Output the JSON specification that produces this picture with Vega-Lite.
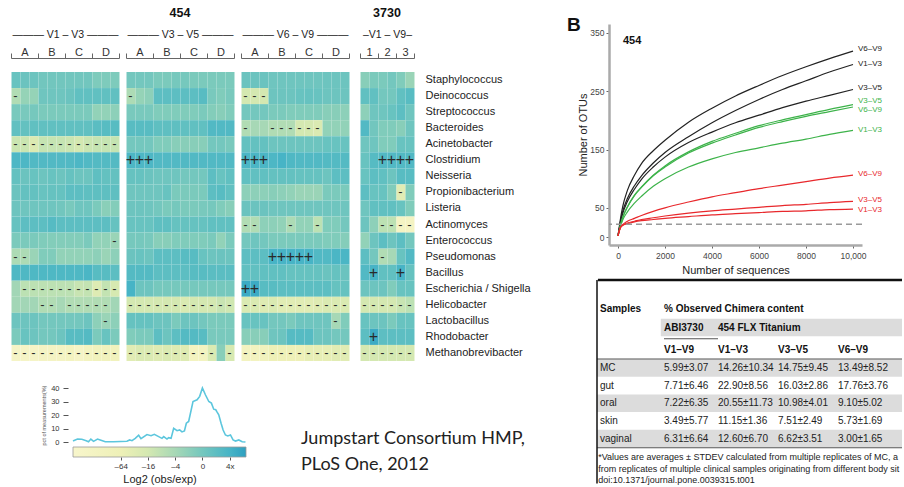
{
  "$schema": "https://vega.github.io/schema/vega-lite/v6.json",
  "padding": {"left": 10, "top": 6, "right": 0, "bottom": 0},
  "background": "white",
  "config": {
    "font": "Liberation Sans",
    "view": {"stroke": null},
    "axis": {"grid": false, "labelColor": "#333", "titleColor": "#222", "tickColor": "#555", "domainColor": "#555", "titleFontWeight": "normal"},
    "title": {"color": "#111"}
  },
  "datasets": {
    "heat": [
      {"p":"V1–V3","g":"Staphylococcus","c":[1,2,3,4,5,6,7,8,9,10,11,12],"v":[0.5,0.4,0.3,0.1,0.1,0.1,0.1,0.1,0.1,-0.4,-0.4,-0.4],"m":["","","","","","","","","","","",""]},
      {"p":"V1–V3","g":"Deinococcus","c":[1,2,3,4,5,6,7,8,9,10,11,12],"v":[-2.5,-1.3,-1.3,0.2,0.2,0.2,0.4,0.8,0.8,0.8,0.8,0.8],"m":["-","","","","","","","","","","",""]},
      {"p":"V1–V3","g":"Streptococcus","c":[1,2,3,4,5,6,7,8,9,10,11,12],"v":[-0.2,-0.2,-0.1,-0.3,-0.3,-0.3,-0.3,-0.3,-0.3,-1.2,-1.2,-1],"m":["","","","","","","","","","","",""]},
      {"p":"V1–V3","g":"Bacteroides","c":[1,2,3,4,5,6,7,8,9,10,11,12],"v":[0.8,0.7,0.8,0.8,0.8,0.8,0.8,0.8,0.8,1.1,1.2,1.2],"m":["","","","","","","","","","","",""]},
      {"p":"V1–V3","g":"Acinetobacter","c":[1,2,3,4,5,6,7,8,9,10,11,12],"v":[-3.6,-3.6,-4.6,-3.4,-3.4,-3.4,-3.6,-4,-3.6,-3.4,-3.4,-3.4],"m":["-","-","-","-","-","-","-","-","-","-","-","-"]},
      {"p":"V1–V3","g":"Clostridium","c":[1,2,3,4,5,6,7,8,9,10,11,12],"v":[1.7,1.7,1.5,1.5,1.5,1.5,1.5,1.7,1.5,1.4,1.4,1.4],"m":["","","","","","","","","","","",""]},
      {"p":"V1–V3","g":"Neisseria","c":[1,2,3,4,5,6,7,8,9,10,11,12],"v":[0.7,0.4,0.5,0.3,0.5,0.3,0.6,0.3,0.3,0.9,0.7,0.7],"m":["","","","","","","","","","","",""]},
      {"p":"V1–V3","g":"Propionibacterium","c":[1,2,3,4,5,6,7,8,9,10,11,12],"v":[0.4,0.7,0.7,0.5,0.6,0.6,1,1,0.9,0.9,0.9,0.9],"m":["","","","","","","","","","","",""]},
      {"p":"V1–V3","g":"Listeria","c":[1,2,3,4,5,6,7,8,9,10,11,12],"v":[0.3,0.2,0.2,0.2,0.2,0.1,-0.2,0.2,0.2,-0.3,-0.9,-0.6],"m":["","","","","","","","","","","",""]},
      {"p":"V1–V3","g":"Actinomyces","c":[1,2,3,4,5,6,7,8,9,10,11,12],"v":[0.6,1,1,1,1.3,1,1,1,1,1,1,0.6],"m":["","","","","","","","","","","",""]},
      {"p":"V1–V3","g":"Enterococcus","c":[1,2,3,4,5,6,7,8,9,10,11,12],"v":[-0.3,-0.3,-0.3,-0.5,-0.6,-0.6,-0.6,-0.6,-0.3,-1.2,-1.2,-1.5],"m":["","","","","","","","","","","","-"]},
      {"p":"V1–V3","g":"Pseudomonas","c":[1,2,3,4,5,6,7,8,9,10,11,12],"v":[-2.3,-2.3,-1.5,-0.5,-0.5,-1.2,-1.2,-1.2,-1.2,-1,-1.5,-1],"m":["-","-","","","","","","","","","",""]},
      {"p":"V1–V3","g":"Bacillus","c":[1,2,3,4,5,6,7,8,9,10,11,12],"v":[1.6,1.6,1.6,1.6,1.6,1.6,1.6,1.6,1.8,1.2,1.2,1],"m":["","","","","","","","","","","",""]},
      {"p":"V1–V3","g":"Escherichia / Shigella","c":[1,2,3,4,5,6,7,8,9,10,11,12],"v":[-1.8,-3,-3,-3,-3,-3,-3,-3.5,-3.3,-4.8,-3.3,-4.2],"m":["","-","-","-","-","-","-","-","-","-","-","-"]},
      {"p":"V1–V3","g":"Helicobacter","c":[1,2,3,4,5,6,7,8,9,10,11,12],"v":[-1.8,-1.8,-1.8,-2.5,-2.5,-2,-2.5,-2.5,-2.5,-2.5,-2.5,-1.8],"m":["","","","-","-","","-","-","-","-","-",""]},
      {"p":"V1–V3","g":"Lactobacillus","c":[1,2,3,4,5,6,7,8,9,10,11,12],"v":[0.3,0.3,0.3,0,0,0,0,0,0.3,-1,-1.5,-1],"m":["","","","","","","","","","","-",""]},
      {"p":"V1–V3","g":"Rhodobacter","c":[1,2,3,4,5,6,7,8,9,10,11,12],"v":[-0.3,0.5,0.3,0,0,0.3,1.2,1.2,1.4,-0.3,0.5,-0.3],"m":["","","","","","","","","","","",""]},
      {"p":"V1–V3","g":"Methanobrevibacter","c":[1,2,3,4,5,6,7,8,9,10,11,12],"v":[-8.5,-8.5,-8.5,-8,-8,-8,-7.5,-8.5,-7.5,-7,-7,-7],"m":["-","-","-","-","-","-","-","-","-","-","-","-"]},

      {"p":"V3–V5","g":"Staphylococcus","c":[1,2,3,4,5,6,7,8,9,10,11,12],"v":[0,0,0,-0.3,-0.3,-0.1,-0.1,-0.3,-0.3,-0.3,-0.3,-0.3],"m":["","","","","","","","","","","",""]},
      {"p":"V3–V5","g":"Deinococcus","c":[1,2,3,4,5,6,7,8,9,10,11,12],"v":[-2.3,-1.3,-1,1,1,1,1,1,1.2,-0.2,-0.5,-0.2],"m":["-","","","","","","","","","","",""]},
      {"p":"V3–V5","g":"Streptococcus","c":[1,2,3,4,5,6,7,8,9,10,11,12],"v":[-0.2,-0.2,-0.2,-0.5,-0.5,-0.5,-0.5,-0.5,-0.3,-0.6,-0.8,-0.5],"m":["","","","","","","","","","","",""]},
      {"p":"V3–V5","g":"Bacteroides","c":[1,2,3,4,5,6,7,8,9,10,11,12],"v":[1.2,1.2,1.2,0.9,0.9,0.9,0.8,0.8,0.8,1.5,1.5,1.5],"m":["","","","","","","","","","","",""]},
      {"p":"V3–V5","g":"Acinetobacter","c":[1,2,3,4,5,6,7,8,9,10,11,12],"v":[0,0,0,-0.5,-0.5,-0.8,-0.8,-0.8,-0.8,0,0,-0.2],"m":["","","","","","","","","","","",""]},
      {"p":"V3–V5","g":"Clostridium","c":[1,2,3,4,5,6,7,8,9,10,11,12],"v":[1.7,1.7,1.7,1.5,1.5,1.5,1.5,1.5,1.5,1.5,1.5,1.5],"m":["+","+","+","","","","","","","","",""]},
      {"p":"V3–V5","g":"Neisseria","c":[1,2,3,4,5,6,7,8,9,10,11,12],"v":[0.6,0.6,0.4,0.2,0.2,0.2,0,0,0,1,0.5,0.8],"m":["","","","","","","","","","","",""]},
      {"p":"V3–V5","g":"Propionibacterium","c":[1,2,3,4,5,6,7,8,9,10,11,12],"v":[0.2,0.2,0.2,0.2,0.5,-0.3,-0.3,-0.3,-0.3,1,1.2,0.8],"m":["","","","","","","","","","","",""]},
      {"p":"V3–V5","g":"Listeria","c":[1,2,3,4,5,6,7,8,9,10,11,12],"v":[0.3,0.3,0.2,0,-0.3,-0.1,-0.3,-0.3,-0.2,-0.1,-0.5,-0.8],"m":["","","","","","","","","","","",""]},
      {"p":"V3–V5","g":"Actinomyces","c":[1,2,3,4,5,6,7,8,9,10,11,12],"v":[0.5,0.5,0.5,0.9,0.9,0.6,0.6,0.6,0.6,0.8,0.8,0.8],"m":["","","","","","","","","","","",""]},
      {"p":"V3–V5","g":"Enterococcus","c":[1,2,3,4,5,6,7,8,9,10,11,12],"v":[-0.1,-0.1,-0.2,-0.8,-0.8,-0.5,-0.5,-0.5,-0.5,-0.3,-1.2,-0.3],"m":["","","","","","","","","","","",""]},
      {"p":"V3–V5","g":"Pseudomonas","c":[1,2,3,4,5,6,7,8,9,10,11,12],"v":[0.4,0.5,0.3,1,1,1,1.2,1.2,0.5,0.3,0.4,0.3],"m":["","","","","","","","","","","",""]},
      {"p":"V3–V5","g":"Bacillus","c":[1,2,3,4,5,6,7,8,9,10,11,12],"v":[1.4,1.4,1.4,1,1,1,1,1.2,1.2,1.1,1.1,1.1],"m":["","","","","","","","","","","",""]},
      {"p":"V3–V5","g":"Escherichia / Shigella","c":[1,2,3,4,5,6,7,8,9,10,11,12],"v":[2,0.3,0.3,-0.1,-0.1,-0.1,-0.1,-0.1,-0.1,-0.1,-0.1,-0.1],"m":["","","","","","","","","","","",""]},
      {"p":"V3–V5","g":"Helicobacter","c":[1,2,3,4,5,6,7,8,9,10,11,12],"v":[-4,-4,-4,-4,-4,-4,-4.5,-4,-4,-4,-3.5,-3.8],"m":["-","-","-","-","-","-","-","-","-","-","-","-"]},
      {"p":"V3–V5","g":"Lactobacillus","c":[1,2,3,4,5,6,7,8,9,10,11,12],"v":[0.6,0.6,0.6,0.3,0.3,-0.3,0.3,0.3,0,-0.3,-0.3,-0.3],"m":["","","","","","","","","","","",""]},
      {"p":"V3–V5","g":"Rhodobacter","c":[1,2,3,4,5,6,7,8,9,10,11,12],"v":[-0.5,-0.3,-0.3,1,0.3,1,1.4,1.4,1.2,-0.2,-0.2,-0.2],"m":["","","","","","","","","","","",""]},
      {"p":"V3–V5","g":"Methanobrevibacter","c":[1,2,3,4,5,6,7,8,9,10,11,12],"v":[-5,-4.5,-4.5,-4.8,-4.5,-4.8,-4.8,-7.5,-7.5,-4.5,-0.8,-4.2],"m":["-","-","-","-","-","-","-","-","-","-","","-"]},

      {"p":"V6–V9","g":"Staphylococcus","c":[1,2,3,4,5,6,7,8,9,10,11,12],"v":[0.4,0.4,0.4,0.2,0.2,0.2,0.2,0.2,0.2,0.3,0.3,0.3],"m":["","","","","","","","","","","",""]},
      {"p":"V6–V9","g":"Deinococcus","c":[1,2,3,4,5,6,7,8,9,10,11,12],"v":[-4,-4,-4,0.3,0.3,0.3,0.5,0.6,0.5,0.3,0.3,0.3],"m":["-","-","-","","","","","","","","",""]},
      {"p":"V6–V9","g":"Streptococcus","c":[1,2,3,4,5,6,7,8,9,10,11,12],"v":[0,0,0,-0.3,-0.3,-0.5,-0.5,-0.5,-0.5,-0.8,-0.8,-1],"m":["","","","","","","","","","","",""]},
      {"p":"V6–V9","g":"Bacteroides","c":[1,2,3,4,5,6,7,8,9,10,11,12],"v":[-2.5,-2,-2,-2.5,-2.5,-2.5,-4,-4,-4.5,-1.2,-1.2,-1.2],"m":["-","","","-","-","-","-","-","-","","",""]},
      {"p":"V6–V9","g":"Acinetobacter","c":[1,2,3,4,5,6,7,8,9,10,11,12],"v":[0.7,0.7,0.7,0.3,0.3,0.3,0.3,0.3,0.3,0.5,0.5,0.5],"m":["","","","","","","","","","","",""]},
      {"p":"V6–V9","g":"Clostridium","c":[1,2,3,4,5,6,7,8,9,10,11,12],"v":[1.8,1.8,1.8,1.7,2,1.6,1.5,1.5,1.5,1.4,1.4,1.4],"m":["+","+","+","","","","","","","","",""]},
      {"p":"V6–V9","g":"Neisseria","c":[1,2,3,4,5,6,7,8,9,10,11,12],"v":[0.8,0.8,0.8,0.7,0.7,0.7,0.6,0.6,0.6,0.3,1,1],"m":["","","","","","","","","","","",""]},
      {"p":"V6–V9","g":"Propionibacterium","c":[1,2,3,4,5,6,7,8,9,10,11,12],"v":[-1,-1,-1,-0.8,-1,-1.2,-1.5,-1.5,-1.5,-0.3,-0.3,-0.3],"m":["","","","","","","","","","","",""]},
      {"p":"V6–V9","g":"Listeria","c":[1,2,3,4,5,6,7,8,9,10,11,12],"v":[0.4,0.4,0.4,0.2,0.2,0.2,0.2,0.2,0.2,0.2,0.2,0.2],"m":["","","","","","","","","","","",""]},
      {"p":"V6–V9","g":"Actinomyces","c":[1,2,3,4,5,6,7,8,9,10,11,12],"v":[-2.5,-2.5,-1,-1,-1.2,-2.3,-1.2,-1.2,-3,-0.5,-0.5,0],"m":["-","-","","","","-","","","-","","",""]},
      {"p":"V6–V9","g":"Enterococcus","c":[1,2,3,4,5,6,7,8,9,10,11,12],"v":[0,0.2,0,-0.3,-0.3,-0.3,-0.3,-0.3,-0.3,-0.5,-0.5,-0.7],"m":["","","","","","","","","","","",""]},
      {"p":"V6–V9","g":"Pseudomonas","c":[1,2,3,4,5,6,7,8,9,10,11,12],"v":[1,1,1,2,2,2,2,2,1.5,1.5,1.8,1.8],"m":["","","","+","+","+","+","+","","","",""]},
      {"p":"V6–V9","g":"Bacillus","c":[1,2,3,4,5,6,7,8,9,10,11,12],"v":[0.8,0.8,0.8,0.8,0.8,0.6,0.6,0.6,0.6,0.4,0.6,0.4],"m":["","","","","","","","","","","",""]},
      {"p":"V6–V9","g":"Escherichia / Shigella","c":[1,2,3,4,5,6,7,8,9,10,11,12],"v":[2.5,2.5,1.2,1.2,1,1,1,1,1,1,0.6,0.6],"m":["+","+","","","","","","","","","",""]},
      {"p":"V6–V9","g":"Helicobacter","c":[1,2,3,4,5,6,7,8,9,10,11,12],"v":[-4.5,-4.5,-4.8,-4.5,-5,-5,-5,-5,-4.8,-4.5,-4.5,-4.5],"m":["-","-","-","-","-","-","-","-","-","-","-","-"]},
      {"p":"V6–V9","g":"Lactobacillus","c":[1,2,3,4,5,6,7,8,9,10,11,12],"v":[0.5,0.5,0.5,0,0,-0.3,0.2,0.2,0.2,0.2,-2,-0.5],"m":["","","","","","","","","","","-",""]},
      {"p":"V6–V9","g":"Rhodobacter","c":[1,2,3,4,5,6,7,8,9,10,11,12],"v":[-0.8,-0.8,-0.8,0.2,0.3,1.3,1.3,1.3,0.3,0.3,0,0],"m":["","","","","","","","","","","",""]},
      {"p":"V6–V9","g":"Methanobrevibacter","c":[1,2,3,4,5,6,7,8,9,10,11,12],"v":[-7.5,-7.5,-7,-6,-6,-6,-6,-5.5,-5.5,-5.5,-5,-5],"m":["-","-","-","-","-","-","-","-","-","-","-","-"]},

      {"p":"3730","g":"Staphylococcus","c":[1,2,3,4,5,6],"v":[-0.8,-0.3,-0.3,0,-0.5,-1.5],"m":["","","","","",""]},
      {"p":"3730","g":"Deinococcus","c":[1,2,3,4,5,6],"v":[0.8,0.8,0,0,0.8,1.2],"m":["","","","","",""]},
      {"p":"3730","g":"Streptococcus","c":[1,2,3,4,5,6],"v":[-1,0.2,0.2,0.5,1,0.2],"m":["","","","","",""]},
      {"p":"3730","g":"Bacteroides","c":[1,2,3,4,5,6],"v":[1.5,0.1,-0.5,-0.5,-0.8,0.2],"m":["","","","","",""]},
      {"p":"3730","g":"Acinetobacter","c":[1,2,3,4,5,6],"v":[0.2,0.2,-0.5,-0.5,0.5,0.5],"m":["","","","","",""]},
      {"p":"3730","g":"Clostridium","c":[1,2,3,4,5,6],"v":[0.5,1.3,1.5,1.5,1.5,1.5],"m":["","","+","+","+","+"]},
      {"p":"3730","g":"Neisseria","c":[1,2,3,4,5,6],"v":[0.5,1,0.8,0.3,1.2,1.2],"m":["","","","","",""]},
      {"p":"3730","g":"Propionibacterium","c":[1,2,3,4,5,6],"v":[1,0.5,0.5,-0.5,-5,-0.5],"m":["","","","","-",""]},
      {"p":"3730","g":"Listeria","c":[1,2,3,4,5,6],"v":[0.2,0.8,0.8,0.8,0.5,-0.5],"m":["","","","","",""]},
      {"p":"3730","g":"Actinomyces","c":[1,2,3,4,5,6],"v":[0.3,-1,-3,-3,-8,-8],"m":["","","-","-","-","-"]},
      {"p":"3730","g":"Enterococcus","c":[1,2,3,4,5,6],"v":[-1.2,0.3,1,0.3,1,0],"m":["","","","","",""]},
      {"p":"3730","g":"Pseudomonas","c":[1,2,3,4,5,6],"v":[1,0,-2.5,-2,0.5,1.5],"m":["","","-","","",""]},
      {"p":"3730","g":"Bacillus","c":[1,2,3,4,5,6],"v":[1.5,2,0.8,0.8,2,0.6],"m":["","+","","","+",""]},
      {"p":"3730","g":"Escherichia / Shigella","c":[1,2,3,4,5,6],"v":[0.3,0.3,0.3,-0.5,0.5,0.5],"m":["","","","","",""]},
      {"p":"3730","g":"Helicobacter","c":[1,2,3,4,5,6],"v":[-4,-4,-4,-4,-3.5,-3],"m":["-","-","-","-","-","-"]},
      {"p":"3730","g":"Lactobacillus","c":[1,2,3,4,5,6],"v":[0.5,0.3,0.3,-0.3,0.5,0.5],"m":["","","","","",""]},
      {"p":"3730","g":"Rhodobacter","c":[1,2,3,4,5,6],"v":[1,2.5,1,1,1,1],"m":["","+","","","",""]},
      {"p":"3730","g":"Methanobrevibacter","c":[1,2,3,4,5,6],"v":[-4,-4,-4,-4,-4,-4],"m":["-","-","-","-","-","-"]}
    ],
    "hist": [
      {"l":-9.5,"p":0.8},{"l":-9.46,"p":1.0},{"l":-9.17,"p":2.2},{"l":-8.85,"p":2.0},{"l":-8.53,"p":1.0},{"l":-8.36,"p":0.2},{"l":-8.19,"p":2.2},{"l":-7.99,"p":0.5},{"l":-7.7,"p":2.2},{"l":-7.5,"p":1.5},{"l":-7.13,"p":0.2},{"l":-6.52,"p":0.2},{"l":-5.54,"p":0.5},{"l":-5.34,"p":1.5},{"l":-5.17,"p":1.0},{"l":-4.93,"p":2.7},{"l":-4.68,"p":5.0},{"l":-4.51,"p":2.5},{"l":-4.07,"p":5.5},{"l":-3.77,"p":4.7},{"l":-3.53,"p":5.7},{"l":-3.21,"p":4.0},{"l":-2.97,"p":2.7},{"l":-2.84,"p":4.0},{"l":-2.6,"p":2.2},{"l":-2.48,"p":3.2},{"l":-2.3,"p":2.7},{"l":-2.11,"p":10.2},{"l":-1.86,"p":8.4},{"l":-1.67,"p":8.9},{"l":-1.5,"p":7.5},{"l":-1.32,"p":8.2},{"l":-1.18,"p":13.9},{"l":-1.01,"p":15.2},{"l":-0.69,"p":30},{"l":-0.39,"p":31.3},{"l":-0.2,"p":33.8},{"l":0,"p":40},{"l":0.22,"p":35},{"l":0.47,"p":30},{"l":0.66,"p":28.8},{"l":0.83,"p":24.3},{"l":0.98,"p":23.9},{"l":1.08,"p":22.1},{"l":1.2,"p":20.1},{"l":1.37,"p":13.9},{"l":1.52,"p":8.9},{"l":1.69,"p":5.2},{"l":1.86,"p":4.5},{"l":2.06,"p":5.2},{"l":2.25,"p":1.5},{"l":2.43,"p":0.7},{"l":2.67,"p":1.5},{"l":2.92,"p":0.2},{"l":3.16,"p":0}
    ],
    "curves": [
      {"s":"k69","grp":"black","x":[0,50,100,200,400,700,1000,1500,2000,3000,4000,5000,6000,7000,8000,9000,10000],"y":[2,16,30,52,80,106,126,148,166,197,221,242,260,277,292,306,319]},
      {"s":"k13","grp":"black","x":[0,50,100,200,400,700,1000,1500,2000,3000,4000,5000,6000,7000,8000,9000,10000],"y":[2,14,26,44,66,88,105,127,145,172,196,217,236,253,268,283,296]},
      {"s":"k35","grp":"black","x":[0,50,100,200,400,700,1000,1500,2000,3000,4000,5000,6000,7000,8000,9000,10000],"y":[2,13,24,40,61,82,99,120,137,162,180,196,209,222,233,243,253]},
      {"s":"g35","grp":"green","x":[0,50,100,200,400,700,1000,1500,2000,3000,4000,5000,6000,7000,8000,9000,10000],"y":[2,11,20,34,52,72,86,106,122,146,164,178,191,201,210,219,227]},
      {"s":"g69","grp":"green","x":[0,50,100,200,400,700,1000,1500,2000,3000,4000,5000,6000,7000,8000,9000,10000],"y":[2,11,19,33,51,71,85,105,120,144,161,175,188,198,207,215,223]},
      {"s":"g13","grp":"green","x":[0,50,100,200,400,700,1000,1500,2000,3000,4000,5000,6000,7000,8000,9000,10000],"y":[2,10,17,29,43,58,70,87,100,120,134,145,153,161,168,176,183]},
      {"s":"r69","grp":"red","x":[0,50,100,200,400,700,1000,1500,2000,3000,4000,5000,6000,7000,8000,9000,10000],"y":[2,10,16,21,27,32,37,44,50,60,69,76,83,89,95,101,106]},
      {"s":"r35","grp":"red","x":[0,50,100,200,400,700,1000,1500,2000,3000,4000,5000,6000,7000,8000,9000,10000],"y":[2,10,16,20,24,27,30,33,36,41,45,48,51,54,56,59,61]},
      {"s":"r13","grp":"red","x":[0,50,100,200,400,700,1000,1500,2000,3000,4000,5000,6000,7000,8000,9000,10000],"y":[2,10,16,20,23,26,28,30,32,35,38,40,42,44,45,47,48]}
    ],
    "curveLabels": [
      {"lab":"V6–V9","grp":"black","ly":323},{"lab":"V1–V3","grp":"black","ly":297},{"lab":"V3–V5","grp":"black","ly":255},
      {"lab":"V3–V5","grp":"green","ly":233},{"lab":"V6–V9","grp":"green","ly":218},{"lab":"V1–V3","grp":"green","ly":184},
      {"lab":"V6–V9","grp":"red","ly":108},{"lab":"V3–V5","grp":"red","ly":64},{"lab":"V1–V3","grp":"red","ly":47}
    ],
    "tableText": [
      {"r":1,"k":1,"t":"Samples"},{"r":1,"k":2,"t":"% Observed Chimera content"},
      {"r":2,"k":2,"t":"ABI3730"},{"r":2,"k":3,"t":"454 FLX Titanium"},
      {"r":3,"k":2,"t":"V1–V9"},{"r":3,"k":3,"t":"V1–V3"},{"r":3,"k":4,"t":"V3–V5"},{"r":3,"k":5,"t":"V6–V9"},
      {"r":4,"k":1,"t":"MC"},{"r":4,"k":2,"t":"5.99±3.07"},{"r":4,"k":3,"t":"14.26±10.34"},{"r":4,"k":4,"t":"14.75±9.45"},{"r":4,"k":5,"t":"13.49±8.52"},
      {"r":5,"k":1,"t":"gut"},{"r":5,"k":2,"t":"7.71±6.46"},{"r":5,"k":3,"t":"22.90±8.56"},{"r":5,"k":4,"t":"16.03±2.86"},{"r":5,"k":5,"t":"17.76±3.76"},
      {"r":6,"k":1,"t":"oral"},{"r":6,"k":2,"t":"7.22±6.35"},{"r":6,"k":3,"t":"20.55±11.73"},{"r":6,"k":4,"t":"10.98±4.01"},{"r":6,"k":5,"t":"9.10±5.02"},
      {"r":7,"k":1,"t":"skin"},{"r":7,"k":2,"t":"3.49±5.77"},{"r":7,"k":3,"t":"11.15±1.36"},{"r":7,"k":4,"t":"7.51±2.49"},{"r":7,"k":5,"t":"5.73±1.69"},
      {"r":8,"k":1,"t":"vaginal"},{"r":8,"k":2,"t":"6.31±6.64"},{"r":8,"k":3,"t":"12.60±6.70"},{"r":8,"k":4,"t":"6.62±3.51"},{"r":8,"k":5,"t":"3.00±1.65"},
      {"r":9,"k":0.4,"t":"*Values are averages ± STDEV calculated from multiple replicates of MC, and"},
      {"r":10,"k":0.4,"t":"from replicates of multiple clinical samples originating from different body sites."},
      {"r":11,"k":0.4,"t":"doi:10.1371/journal.pone.0039315.t001"}
    ]
  },
  "concat": [
    {
      "vconcat": [
        {
          "hconcat": [
            {
              "title": {"text": "454", "anchor": "middle", "fontSize": 12.5, "fontWeight": "bold", "offset": 5},
              "bounds": "flush",
              "spacing": 7,
              "hconcat": [
                {
                  "width": 108, "height": 337,
                  "data": {"name": "heat"},
                  "transform": [{"filter": "datum.p === 'V1–V3'"}, {"flatten": ["c", "v", "m"]}],
                  "encoding": {
                    "x": {"field": "c", "type": "quantitative", "bin": {"step": 1, "extent": [1, 13]}, "scale": {"domain": [1, 13]},
                      "axis": {"orient": "top", "values": [1, 4, 7, 10, 13], "labelExpr": "datum.value == 1 ? 'A' : datum.value == 4 ? 'B' : datum.value == 7 ? 'C' : datum.value == 10 ? 'D' : ''", "labelOffset": {"condition": {"test": "datum.value == 13", "value": -40}, "value": 13.5}, "labelAngle": 0, "labelFontSize": 11, "labelPadding": -4.5, "labelFlush": false, "labelOverlap": false, "labelBound": false, "tickSize": 5, "offset": -34, "domainColor": "#666", "tickColor": "#666", "title": "——— V1 – V3 ———", "titleFontSize": 10.5, "titlePadding": 7}},
                    "y": {"field": "g", "type": "nominal", "scale": {"domain": ["Staphylococcus","Deinococcus","Streptococcus","Bacteroides","Acinetobacter","Clostridium","Neisseria","Propionibacterium","Listeria","Actinomyces","Enterococcus","Pseudomonas","Bacillus","Escherichia / Shigella","Helicobacter","Lactobacillus","Rhodobacter","Methanobrevibacter"], "range": [48, 337], "paddingInner": 0, "paddingOuter": 0}, "axis": null}
                  },
                  "layer": [
                    {"mark": {"type": "rect"}, "encoding": {"color": {"field": "v", "type": "quantitative", "scale": {"domain": [-9.5, -6, -4, -2, 0, 2, 3.2], "range": ["#f8f6cc", "#eef0b7", "#d4e8b1", "#a7d8b6", "#74c7be", "#47b4c6", "#2e9fc0"], "clamp": true}, "legend": null}}},
                    {"mark": {"type": "text", "baseline": "middle", "color": "#2a2a2a"}, "encoding": {"text": {"field": "m"}, "size": {"condition": {"test": "datum.m === '+'", "value": 16}, "value": 13}}}
                  ]
                },
                {
                  "width": 108, "height": 337,
                  "data": {"name": "heat"},
                  "transform": [{"filter": "datum.p === 'V3–V5'"}, {"flatten": ["c", "v", "m"]}],
                  "encoding": {
                    "x": {"field": "c", "type": "quantitative", "bin": {"step": 1, "extent": [1, 13]}, "scale": {"domain": [1, 13]},
                      "axis": {"orient": "top", "values": [1, 4, 7, 10, 13], "labelExpr": "datum.value == 1 ? 'A' : datum.value == 4 ? 'B' : datum.value == 7 ? 'C' : datum.value == 10 ? 'D' : ''", "labelOffset": {"condition": {"test": "datum.value == 13", "value": -40}, "value": 13.5}, "labelAngle": 0, "labelFontSize": 11, "labelPadding": -4.5, "labelFlush": false, "labelOverlap": false, "labelBound": false, "tickSize": 5, "offset": -34, "domainColor": "#666", "tickColor": "#666", "title": "——— V3 – V5 ———", "titleFontSize": 10.5, "titlePadding": 7}},
                    "y": {"field": "g", "type": "nominal", "scale": {"domain": ["Staphylococcus","Deinococcus","Streptococcus","Bacteroides","Acinetobacter","Clostridium","Neisseria","Propionibacterium","Listeria","Actinomyces","Enterococcus","Pseudomonas","Bacillus","Escherichia / Shigella","Helicobacter","Lactobacillus","Rhodobacter","Methanobrevibacter"], "range": [48, 337], "paddingInner": 0, "paddingOuter": 0}, "axis": null}
                  },
                  "layer": [
                    {"mark": {"type": "rect"}, "encoding": {"color": {"field": "v", "type": "quantitative", "scale": {"domain": [-9.5, -6, -4, -2, 0, 2, 3.2], "range": ["#f8f6cc", "#eef0b7", "#d4e8b1", "#a7d8b6", "#74c7be", "#47b4c6", "#2e9fc0"], "clamp": true}, "legend": null}}},
                    {"mark": {"type": "text", "baseline": "middle", "color": "#2a2a2a"}, "encoding": {"text": {"field": "m"}, "size": {"condition": {"test": "datum.m === '+'", "value": 16}, "value": 13}}}
                  ]
                },
                {
                  "width": 108, "height": 337,
                  "data": {"name": "heat"},
                  "transform": [{"filter": "datum.p === 'V6–V9'"}, {"flatten": ["c", "v", "m"]}],
                  "encoding": {
                    "x": {"field": "c", "type": "quantitative", "bin": {"step": 1, "extent": [1, 13]}, "scale": {"domain": [1, 13]},
                      "axis": {"orient": "top", "values": [1, 4, 7, 10, 13], "labelExpr": "datum.value == 1 ? 'A' : datum.value == 4 ? 'B' : datum.value == 7 ? 'C' : datum.value == 10 ? 'D' : ''", "labelOffset": {"condition": {"test": "datum.value == 13", "value": -40}, "value": 13.5}, "labelAngle": 0, "labelFontSize": 11, "labelPadding": -4.5, "labelFlush": false, "labelOverlap": false, "labelBound": false, "tickSize": 5, "offset": -34, "domainColor": "#666", "tickColor": "#666", "title": "——— V6 – V9 ———", "titleFontSize": 10.5, "titlePadding": 7}},
                    "y": {"field": "g", "type": "nominal", "scale": {"domain": ["Staphylococcus","Deinococcus","Streptococcus","Bacteroides","Acinetobacter","Clostridium","Neisseria","Propionibacterium","Listeria","Actinomyces","Enterococcus","Pseudomonas","Bacillus","Escherichia / Shigella","Helicobacter","Lactobacillus","Rhodobacter","Methanobrevibacter"], "range": [48, 337], "paddingInner": 0, "paddingOuter": 0}, "axis": null}
                  },
                  "layer": [
                    {"mark": {"type": "rect"}, "encoding": {"color": {"field": "v", "type": "quantitative", "scale": {"domain": [-9.5, -6, -4, -2, 0, 2, 3.2], "range": ["#f8f6cc", "#eef0b7", "#d4e8b1", "#a7d8b6", "#74c7be", "#47b4c6", "#2e9fc0"], "clamp": true}, "legend": null}}},
                    {"mark": {"type": "text", "baseline": "middle", "color": "#2a2a2a"}, "encoding": {"text": {"field": "m"}, "size": {"condition": {"test": "datum.m === '+'", "value": 16}, "value": 13}}}
                  ]
                }
              ]
            },
            {
              "title": {"text": "3730", "anchor": "middle", "fontSize": 12.5, "fontWeight": "bold", "offset": 5},
              "width": 54, "height": 337,
              "data": {"name": "heat"},
              "transform": [{"filter": "datum.p === '3730'"}, {"flatten": ["c", "v", "m"]}],
              "encoding": {
                "x": {"field": "c", "type": "quantitative", "bin": {"step": 1, "extent": [1, 7]}, "scale": {"domain": [1, 7]},
                  "axis": {"orient": "top", "values": [1, 3, 5, 7], "labelExpr": "datum.value == 1 ? '1' : datum.value == 3 ? '2' : datum.value == 5 ? '3' : ''", "labelOffset": {"condition": {"test": "datum.value == 7", "value": -20}, "value": 9}, "labelAngle": 0, "labelFontSize": 11, "labelPadding": -4.5, "labelFlush": false, "labelOverlap": false, "labelBound": false, "tickSize": 5, "offset": -34, "domainColor": "#666", "tickColor": "#666", "title": "–V1 – V9–", "titleFontSize": 10.5, "titlePadding": 7}},
                "y": {"field": "g", "type": "nominal", "scale": {"domain": ["Staphylococcus","Deinococcus","Streptococcus","Bacteroides","Acinetobacter","Clostridium","Neisseria","Propionibacterium","Listeria","Actinomyces","Enterococcus","Pseudomonas","Bacillus","Escherichia / Shigella","Helicobacter","Lactobacillus","Rhodobacter","Methanobrevibacter"], "range": [48, 337], "paddingInner": 0, "paddingOuter": 0},
                  "axis": {"orient": "right", "ticks": false, "domain": false, "labelPadding": 11, "labelFontSize": 11, "labelColor": "#222", "title": null}}
              },
              "layer": [
                {"mark": {"type": "rect"}, "encoding": {"color": {"field": "v", "type": "quantitative", "scale": {"domain": [-9.5, -6, -4, -2, 0, 2, 3.2], "range": ["#f8f6cc", "#eef0b7", "#d4e8b1", "#a7d8b6", "#74c7be", "#47b4c6", "#2e9fc0"], "clamp": true}, "legend": null}}},
                {"mark": {"type": "text", "baseline": "middle", "color": "#2a2a2a"}, "encoding": {"text": {"field": "m"}, "size": {"condition": {"test": "datum.m === '+'", "value": 16}, "value": 13}}}
              ]
            }
          ],
          "spacing": 9
        },
        {
          "hconcat": [
            {"width": 20, "height": 1, "data": {"values": []}, "mark": "rect"},
            {
              "bounds": "flush",
              "spacing": 5,
              "vconcat": [
                {
                  "width": 173, "height": 54,
                  "data": {"name": "hist"},
                  "mark": {"type": "line", "color": "#5cc6dd", "strokeWidth": 1.6},
                  "encoding": {
                    "x": {"field": "l", "type": "quantitative", "scale": {"domain": [-9.5, 3.2], "nice": false, "zero": false}, "axis": null},
                    "y": {"field": "p", "type": "quantitative", "scale": {"domain": [0, 40], "nice": false},
                      "axis": {"values": [0, 10, 20, 30, 40], "title": "pct of measurements(%)", "titleFontSize": 5.5, "titleColor": "#555", "labelFontSize": 7.5, "tickSize": 5, "labelPadding": 4, "offset": 5, "domain": false, "titlePadding": 4}}
                  }
                },
                {
                  "width": 173, "height": 10,
                  "data": {"values": [{"lo": -9.5, "hi": 3.2}]},
                  "mark": {"type": "rect", "stroke": "#999", "strokeWidth": 0.8,
                    "color": {"gradient": "linear", "x1": 0, "y1": 0, "x2": 1, "y2": 0,
                      "stops": [{"offset": 0, "color": "#f8f6cc"}, {"offset": 0.2756, "color": "#eef0b7"}, {"offset": 0.4331, "color": "#d4e8b1"}, {"offset": 0.5906, "color": "#a7d8b6"}, {"offset": 0.748, "color": "#74c7be"}, {"offset": 0.9055, "color": "#47b4c6"}, {"offset": 1, "color": "#2e9fc0"}]}},
                  "encoding": {
                    "x": {"field": "lo", "type": "quantitative", "scale": {"domain": [-9.5, 3.2], "nice": false, "zero": false},
                      "axis": {"values": [-6, -4, -2, 0, 2], "labelExpr": "datum.value == -6 ? '–64' : datum.value == -4 ? '–16' : datum.value == -2 ? '–4' : datum.value == 0 ? '0' : '4x'", "domain": false, "tickSize": 3, "labelPadding": 2, "labelFontSize": 8, "title": "Log2 (obs/exp)", "titleFontSize": 11, "titlePadding": 3}},
                    "x2": {"field": "hi"}
                  }
                }
              ]
            },
            {
              "width": 84, "height": 84,
              "data": {"values": [{"t": "Jumpstart Consortium HMP,\nPLoS One, 2012"}]},
              "mark": {"type": "text", "align": "left", "baseline": "top", "lineBreak": "\n", "font": "Lato", "fontSize": 18, "lineHeight": 26, "color": "#222"},
              "encoding": {"text": {"field": "t"}}
            }
          ],
          "spacing": 10
        }
      ],
      "spacing": 23
    },
    {
      "concat": [
        {
          "width": 253, "height": 221,
          "layer": [
            {
              "data": {"name": "curves"},
              "transform": [{"flatten": ["x", "y"]}],
              "mark": {"type": "line", "strokeWidth": 1.2, "interpolate": "monotone"},
              "encoding": {
                "x": {"field": "x", "type": "quantitative", "scale": {"domain": [-383, 10383], "nice": false, "zero": false},
                  "axis": {"values": [0, 2000, 4000, 6000, 8000, 10000], "format": "d", "labelExpr": "datum.value == 10000 ? '10,000' : datum.label", "title": "Number of sequences", "titleFontSize": 11, "titlePadding": 5, "labelFontSize": 8.5, "tickSize": 3, "labelPadding": 3, "domainColor": "#aaa", "domainWidth": 2.5, "tickColor": "#666", "labelColor": "#444"}},
                "y": {"field": "y", "type": "quantitative", "scale": {"domain": [-13.7, 365.4], "nice": false, "zero": false},
                  "axis": {"values": [0, 22, 50, 100, 150, 200, 250, 300, 350], "labelExpr": "datum.value == 22 ? 'Expected' : datum.label", "title": "Number of OTUs", "titleFontSize": 11, "titlePadding": 1, "labelFontSize": 8.5, "tickSize": 3, "labelPadding": 2, "domainColor": "#aaa", "domainWidth": 2.5, "tickColor": "#666", "labelColor": "#444", "labelOverlap": false}},
                "color": {"field": "grp", "type": "nominal", "scale": {"domain": ["black", "green", "red"], "range": ["#222222", "#3db34a", "#e8282c"]}, "legend": null},
                "detail": {"field": "s"}
              }
            },
            {
              "data": {"values": [{"e": 22}]},
              "mark": {"type": "rule", "strokeDash": [6, 4], "color": "#9a9a9a", "strokeWidth": 1.5},
              "encoding": {"y": {"field": "e", "type": "quantitative", "title": "Number of OTUs"}}
            },
            {
              "data": {"name": "curveLabels"},
              "mark": {"type": "text", "align": "left", "baseline": "middle", "dx": 5, "fontSize": 8},
              "encoding": {
                "x": {"datum": 10000},
                "y": {"field": "ly", "type": "quantitative", "title": "Number of OTUs"},
                "text": {"field": "lab"},
                "color": {"field": "grp", "type": "nominal", "scale": {"domain": ["black", "green", "red"], "range": ["#222222", "#3db34a", "#e8282c"]}, "legend": null}
              }
            },
            {
              "data": {"values": [{"t": "454", "px": 213, "py": 336}, {"t": "B", "px": -2169, "py": 363}]},
              "mark": {"type": "text", "align": "left", "baseline": "middle", "fontWeight": "bold", "color": "#111"},
              "encoding": {
                "x": {"field": "px", "type": "quantitative"},
                "y": {"field": "py", "type": "quantitative", "title": "Number of OTUs"},
                "text": {"field": "t"},
                "size": {"condition": {"test": "datum.t === 'B'", "value": 19}, "value": 11}
              }
            }
          ]
        },
        {
          "width": 293, "height": 207,
          "layer": [
            {
              "data": {"values": [{"r": 2, "a": 1.95, "b": 6}, {"r": 4, "a": 0, "b": 6}, {"r": 6, "a": 0, "b": 6}, {"r": 8, "a": 0, "b": 6}]},
              "mark": {"type": "rule", "strokeWidth": 17.6, "color": "#dcdcdc", "strokeCap": "butt"},
              "encoding": {
                "x": {"field": "a", "type": "quantitative", "scale": {"domain": [0, 1, 2, 3, 5, 6], "range": [-12, -9, 55, 109, 229, 293]}, "axis": null},
                "x2": {"field": "b"},
                "y": {"field": "r", "type": "quantitative", "scale": {"domain": [0, 1, 2, 3, 4, 8, 9, 11, 11.6], "range": [1, 30, 48.5, 71, 89, 159.5, 178, 201, 207]}, "axis": null}
              }
            },
            {
              "data": {"values": [{"r": 0, "a": 0.3, "b": 6}]},
              "mark": {"type": "rule", "strokeWidth": 2.5, "color": "#111"},
              "encoding": {"x": {"field": "a", "type": "quantitative", "axis": null}, "x2": {"field": "b"}, "y": {"field": "r", "type": "quantitative", "axis": null}}
            },
            {
              "data": {"values": [{"r": 3.5, "a": 0, "b": 6}, {"r": 8.5, "a": 0, "b": 6}, {"r": 2.5, "a": 2, "b": 3}]},
              "mark": {"type": "rule", "strokeWidth": 1.2, "color": "#555"},
              "encoding": {"x": {"field": "a", "type": "quantitative", "axis": null}, "x2": {"field": "b"}, "y": {"field": "r", "type": "quantitative", "axis": null}}
            },
            {
              "data": {"values": [{"k": 0, "r0": 0, "r1": 11.6}]},
              "mark": {"type": "rule", "strokeWidth": 1.5, "color": "#111"},
              "encoding": {"x": {"field": "k", "type": "quantitative", "axis": null}, "y": {"field": "r0", "type": "quantitative", "axis": null}, "y2": {"field": "r1"}}
            },
            {
              "data": {"name": "tableText"},
              "transform": [{"filter": "datum.r <= 3"}],
              "mark": {"type": "text", "align": "left", "baseline": "middle", "fontSize": 10, "fontWeight": "bold", "color": "#111"},
              "encoding": {"x": {"field": "k", "type": "quantitative", "axis": null}, "y": {"field": "r", "type": "quantitative", "axis": null}, "text": {"field": "t"}}
            },
            {
              "data": {"name": "tableText"},
              "transform": [{"filter": "datum.r >= 4 && datum.r <= 8"}],
              "mark": {"type": "text", "align": "left", "baseline": "middle", "fontSize": 10, "color": "#222"},
              "encoding": {"x": {"field": "k", "type": "quantitative", "axis": null}, "y": {"field": "r", "type": "quantitative", "axis": null}, "text": {"field": "t"}}
            },
            {
              "data": {"name": "tableText"},
              "transform": [{"filter": "datum.r >= 9"}],
              "mark": {"type": "text", "align": "left", "baseline": "middle", "fontSize": 9, "color": "#222", "limit": 302, "ellipsis": "\u200b"},
              "encoding": {"x": {"field": "k", "type": "quantitative", "axis": null}, "y": {"field": "r", "type": "quantitative", "axis": null}, "text": {"field": "t"}}
            }
          ]
        }
      ],
      "columns": 1,
      "align": "none",
      "spacing": 2
    }
  ],
  "columns": 2,
  "align": "none",
  "spacing": 36
}
